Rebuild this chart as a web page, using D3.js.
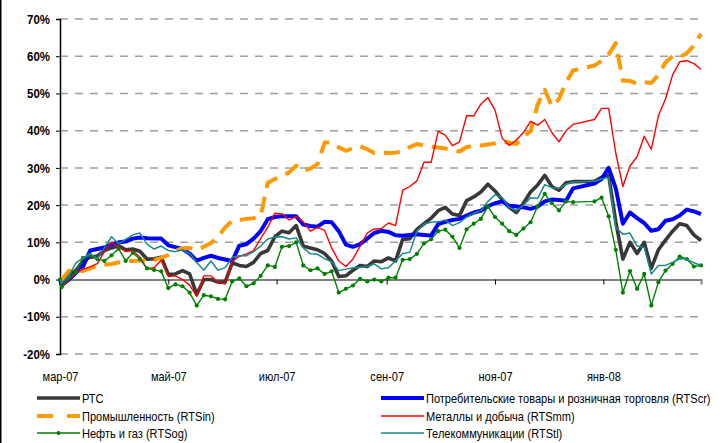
<!DOCTYPE html>
<html>
<head>
<meta charset="utf-8">
<script src="https://cdn.jsdelivr.net/npm/d3@7"></script>
<style>
  body { margin: 0; background: #fff; }
  svg { display: block; font-family: "Liberation Sans", Arial, sans-serif; }
</style>
</head>
<body>
<svg id="chart"></svg>
<script>
// observation dates (x categories)
var dates = [
  "2007-03-01","2007-03-02","2007-03-06","2007-03-10","2007-03-14","2007-03-18","2007-03-22","2007-03-26","2007-03-30",
  "2007-04-03","2007-04-07","2007-04-11","2007-04-15","2007-04-19","2007-04-23","2007-04-27",
  "2007-05-01","2007-05-05","2007-05-09","2007-05-13","2007-05-17","2007-05-21","2007-05-25","2007-05-29",
  "2007-06-02","2007-06-06","2007-06-10","2007-06-14","2007-06-18","2007-06-22","2007-06-26","2007-06-30",
  "2007-07-04","2007-07-08","2007-07-12","2007-07-16","2007-07-20","2007-07-24","2007-07-28",
  "2007-08-01","2007-08-05","2007-08-09","2007-08-13","2007-08-17","2007-08-21","2007-08-25","2007-08-29",
  "2007-09-02","2007-09-06","2007-09-10","2007-09-14","2007-09-18","2007-09-22","2007-09-26","2007-09-30",
  "2007-10-04","2007-10-08","2007-10-12","2007-10-16","2007-10-20","2007-10-24","2007-10-28",
  "2007-11-01","2007-11-05","2007-11-09","2007-11-13","2007-11-17","2007-11-21","2007-11-25","2007-11-29",
  "2007-12-03","2007-12-07","2007-12-11","2007-12-15",
  "2007-12-27","2007-12-31",
  "2008-01-04","2008-01-08","2008-01-12","2008-01-16","2008-01-20","2008-01-24","2008-01-28",
  "2008-02-01","2008-02-05","2008-02-09","2008-02-13","2008-02-17","2008-02-21","2008-02-25"
];

// РТС
var rts = [
  0, -0.7, 1, 2.5, 5, 6, 6.3, 7.8, 8.5,
  9.1, 8, 8.2, 7.6, 5.5, 5.6, 6,
  1.4, 1.5, 2.4, 1.5, -4, 0, 0, -0.7,
  -0.7, 4.5, 3.8, 3.5, 4.6, 7, 7.8, 11.5,
  13, 12.6, 14.5, 9, 8.5, 8, 7,
  5, 0.8, 1, 2.5, 3.8, 3.5, 5, 4.8,
  5.8, 5, 10.8, 11, 13.5, 15, 16.5, 18.5,
  19.4, 17.6, 17.2, 21.2, 22.2, 23.5, 25.6,
  23.8, 21.5, 19.4, 18, 20.5, 23.5, 25.4, 28,
  25, 24, 26, 26.3,
  26.4, 27.5,
  28, 15.5, 5.5, 10, 7, 10, 3,
  8, 10.6, 13, 15, 14.5, 12, 10.5
];
// Потребительские товары и розничная торговля
var rtsCr = [
  0, -1.5, 0, 1.8, 3.5, 7.8, 8.2, 8.6, 9.5,
  10, 10.2, 11, 11.3, 11.1, 11, 11,
  9.2, 8.7, 8.2, 7, 5.1, 5.8, 6.4, 5.8,
  5.4, 5, 9.1, 9.5, 11, 13, 16.2, 16.8,
  17, 17, 17, 14.8, 14.4, 14.2, 15.5,
  15.4, 13, 9.4, 8.8, 9.5, 11, 12.5, 13.1,
  12.8, 11.9, 11.8, 12, 12.2, 12, 11.8, 14.9,
  15.5, 16, 16.3, 17.2, 18, 18.5, 19.7,
  20.5, 21, 19.8, 19.6, 19.4, 19, 19.6, 21,
  21.5, 21.4, 21.2, 24.5,
  25.8, 27,
  30, 24.5, 15, 18, 16.5, 15.2, 13.1,
  13.5, 15.8, 16.2, 17.2, 18.8, 18.3, 17.6
];
// Промышленность
var rtsIn = [
  0, 0, 2.4, 1.9, 2.3, 3, 3.7, 4, 4.2,
  4.6, 4.8, 5, 5.1, 5.1, 5.2, 5.8,
  6.6, 7.8, 8.4, 8.5, 8, 8.8, 9.8, 11.5,
  14, 15.8, 16, 16.3, 16.5, 17, 26, 27,
  27.8, 28.8, 30.6, 29.2, 29.8, 31, 36.8,
  36.8, 35.5, 34.6, 35.3, 35.8, 35, 34, 34.1,
  34, 34.1, 34.5, 35.6, 36.4, 36, 35.7, 35.5,
  35.2, 34.8, 34.4, 35.6, 35.9, 36, 36.3,
  36.6, 37.1, 36.8, 36.4, 38.5, 39.8, 47, 51,
  46.5, 48.5, 53, 56.2,
  57.5, 58.8,
  60.5, 63.5, 53.4, 53.4, 52.6, 53, 52.8,
  55, 58.3, 60, 59.8, 60.8, 62.8, 66
];
// Металлы и добыча
var rtsMm = [
  0, -2.2, 0, 1.8, 2.8, 3.4, 4.3, 7.5, 10,
  8.7, 7.5, 7.8, 6, 2.9, 3.2, 5.2,
  0.8, 1, 0, -1.5, -4.5, 1, 1, -0.7,
  -1.2, 5, 6.2, 6.9, 7.8, 11, 14, 17.8,
  17.6, 16, 17, 15.5, 13, 14, 13.2,
  8.5, 5, 3.5, 5.5, 9, 12.5, 13.6, 13.7,
  15.2, 14.5, 24, 25, 26.5, 31.5, 31.5, 39.8,
  38.8, 36, 37, 44, 44, 47.1, 48.9,
  45.5, 38, 36, 37.5, 39.5, 42.5, 41.5, 43,
  39.5, 37, 40, 41.7,
  43, 46,
  46, 34, 25, 30.5, 33, 38.5, 35,
  44, 48.5, 55, 58.5, 58.8, 58, 56.5
];
// Нефть и газ
var rtsOg = [
  0, -2, 0.5, 2, 5.8, 6.5, 5.5, 5, 6.5,
  8.3, 5, 7.2, 5.5, 3, 2.6, 2.2,
  -2.3, -1.3, -1.8, -3.5, -7, -4.2, -4.5, -5.2,
  -5.3, -0.5, 0.3, -1.8, -1, 1, 3.8, 3.4,
  8.8, 9, 10, 3.8, 2.5, 3, 1.5,
  2.2, -3.5, -2.5, -1.6, 0.2, -0.5, 0, -0.5,
  0.5, 0.5, 5.3, 5.5, 6.9, 9.7, 10.8, 13,
  13.4, 11.5, 8.5, 13.5, 15, 16.3, 19.6,
  16.8, 15, 13, 12, 13.7, 15.4, 19.7, 23,
  20.5, 18.6, 21, 20.8,
  21, 22,
  17, 8, -3.5, 2.3, -2.5, 1.5, -7,
  -0.7, 2.4, 4.2, 6.2, 5.5, 3.5, 3.8
];
// Телекоммуникации
var rtsTl = [
  0, -1, 1, 4.5, 5.8, 7, 5.6, 8.5, 11.5,
  9.6, 10.8, 12, 12.5, 9.5, 8.2, 9,
  7.8, 7.5, 8, 7, 4.6, 2.5, 5, 2.5,
  3.2, 6, 6.4, 6.4, 7.5, 9, 10.9, 11.4,
  11.5, 10.9, 11.2, 8.5, 6.9, 6.8, 5.6,
  4.8, 2.4, 2.8, 3.2, 3.3, 3.5, 4.2, 2.9,
  3.2, 5, 7, 7.3, 13, 14.9, 15.4, 15.5,
  16, 14.5, 15.3, 16.8, 17.8, 18.5, 21,
  22.8, 22, 19.4, 18.5, 20, 22, 21.8, 25.5,
  24.7, 24.5, 25.6, 26.2,
  26.4, 27,
  27.5, 14, 12.2, 12.5, 9, 8.7, 1.5,
  3.8, 3.8, 4.6, 5.6, 5.5, 4.5, 3.8
];

var seriesNames = [
  "РТС",
  "Потребительские товары и розничная торговля (RTScr)",
  "Промышленность (RTSin)",
  "Металлы и добыча (RTSmm)",
  "Нефть и газ (RTSog)",
  "Телекоммуникации (RTStl)"
];
var yTicks = [-20, -10, 0, 10, 20, 30, 40, 50, 60, 70];
var xTickDates = ["2007-03-01", "2007-05-01", "2007-07-01", "2007-09-01", "2007-11-01", "2008-01-01"];
var xTickLabels = ["мар-07", "май-07", "июл-07", "сен-07", "ноя-07", "янв-08"];

var parse = d3.timeParse("%Y-%m-%d");
//no narrow face is installed, so texts get squeezed horizontally
var squeeze = 0.85;

// series draw order follows the legend order
var series = [
  {name: seriesNames[0], values: rts,   color: "#383838", width: 3.6},
  {name: seriesNames[1], values: rtsCr, color: "#0000ff", width: 4},
  {name: seriesNames[2], values: rtsIn, color: "#ff9900", width: 4, dash: "16,9"},
  {name: seriesNames[3], values: rtsMm, color: "#ff0000", width: 1.4},
  {name: seriesNames[4], values: rtsOg, color: "#008000", width: 1.4, marker: true},
  {name: seriesNames[5], values: rtsTl, color: "#1a8a8a", width: 1.5}
];

var svgWidth = 725, svgHeight = 443;
var svg = d3.select("#chart")
  .attr("width", svgWidth)
  .attr("height", svgHeight);

var x = d3.scaleTime()
  .domain([parse("2007-03-01"), parse("2008-02-25")])
  .range([60, 701]);

var y = d3.scaleLinear()
  .domain([-20, 70])
  .range([354, 19]);

//left frame edge
svg.append("line")
  .attr("x1", 0.75).attr("x2", 0.75)
  .attr("y1", 0).attr("y2", svgHeight)
  .attr("stroke", "#000").attr("stroke-width", 1.5);

//dashed grid
svg.append("g")
  .selectAll("line")
  .data(yTicks.filter(d => d !== 0))
  .join("line")
    .attr("x1", 60).attr("x2", 700)
    .attr("y1", d => y(d)).attr("y2", d => y(d))
    .attr("stroke", "#a0a0a0")
    .attr("stroke-width", 1.5)
    .attr("stroke-dasharray", "8,7");

//zero line with month ticks
var zeroAxis = svg.append("g")
  .attr("transform", `translate(0,${y(0)})`)
  .call(d3.axisBottom(x)
    .tickValues(xTickDates.map(parse))
    .tickSize(5)
    .tickFormat(""));
zeroAxis.select(".domain").attr("stroke", "#808080").attr("stroke-width", 2);
zeroAxis.selectAll(".tick line").attr("stroke", "#000");

//month labels at the bottom
var labelAxis = svg.append("g")
  .attr("transform", `translate(0,${y(-20)})`)
  .call(d3.axisBottom(x)
    .tickValues(xTickDates.map(parse))
    .tickSize(0)
    .tickPadding(18)
    .tickFormat((d, i) => xTickLabels[i]));
labelAxis.select(".domain").remove();
labelAxis.selectAll("text")
  .attr("font-size", 13)
  .attr("font-family", "'Liberation Sans', Arial, sans-serif")
  .attr("fill", "#000")
  .attr("transform", `scale(${squeeze},1)`);

//value axis
var yAxis = svg.append("g")
  .attr("transform", "translate(60,0)")
  .call(d3.axisLeft(y)
    .tickValues(yTicks)
    .tickSize(4)
    .tickPadding(6)
    .tickFormat(d => d + "%"));
yAxis.select(".domain").attr("stroke", "#000").attr("stroke-width", 1.5);
yAxis.selectAll("text")
  .attr("font-size", 13)
  .attr("font-weight", "bold")
  .attr("font-family", "'Liberation Sans', Arial, sans-serif")
  .attr("fill", "#000")
  .attr("x", -10 / 0.88)
  .attr("transform", "scale(0.88,1)");

//lines
var line = d3.line()
  .x((d, i) => x(parse(dates[i])))
  .y(d => y(d));

var lines = svg.append("g")
  .attr("fill", "none")
  .attr("stroke-linejoin", "round");

series.forEach(function(s){
  lines.append("path")
    .attr("d", line(s.values))
    .attr("stroke", s.color)
    .attr("stroke-width", s.width)
    .attr("stroke-dasharray", s.dash || null);
  if(s.marker){
    lines.append("g")
      .selectAll("circle")
      .data(s.values)
      .join("circle")
        .attr("cx", (d, i) => x(parse(dates[i])))
        .attr("cy", d => y(d))
        .attr("r", 2.1)
        .attr("fill", s.color);
  }
});

//legend: two columns, three rows
var legend = svg.append("g")
  .attr("font-size", 13)
  .attr("font-family", "'Liberation Sans', Arial, sans-serif");
var legendPos = [[37, 398], [381, 398], [37, 416], [381, 416], [37, 433], [381, 433]];

series.forEach(function(s, i){
  var p = legendPos[i];
  var g = legend.append("g").attr("transform", `translate(${p[0]},${p[1]})`);
  g.append("line")
    .attr("x1", 0).attr("x2", 43)
    .attr("stroke", s.color)
    .attr("stroke-width", s.width)
    .attr("stroke-dasharray", s.dash ? "16,14" : null);
  if(s.marker){
    g.append("circle").attr("cx", 21.5).attr("r", 2.1).attr("fill", s.color);
  }
  g.append("text")
    .attr("x", 45 / squeeze)
    .attr("y", 4.5)
    .attr("transform", `scale(${squeeze},1)`)
    .attr("fill", "#000")
    .text(s.name);
});
</script>
</body>
</html>
